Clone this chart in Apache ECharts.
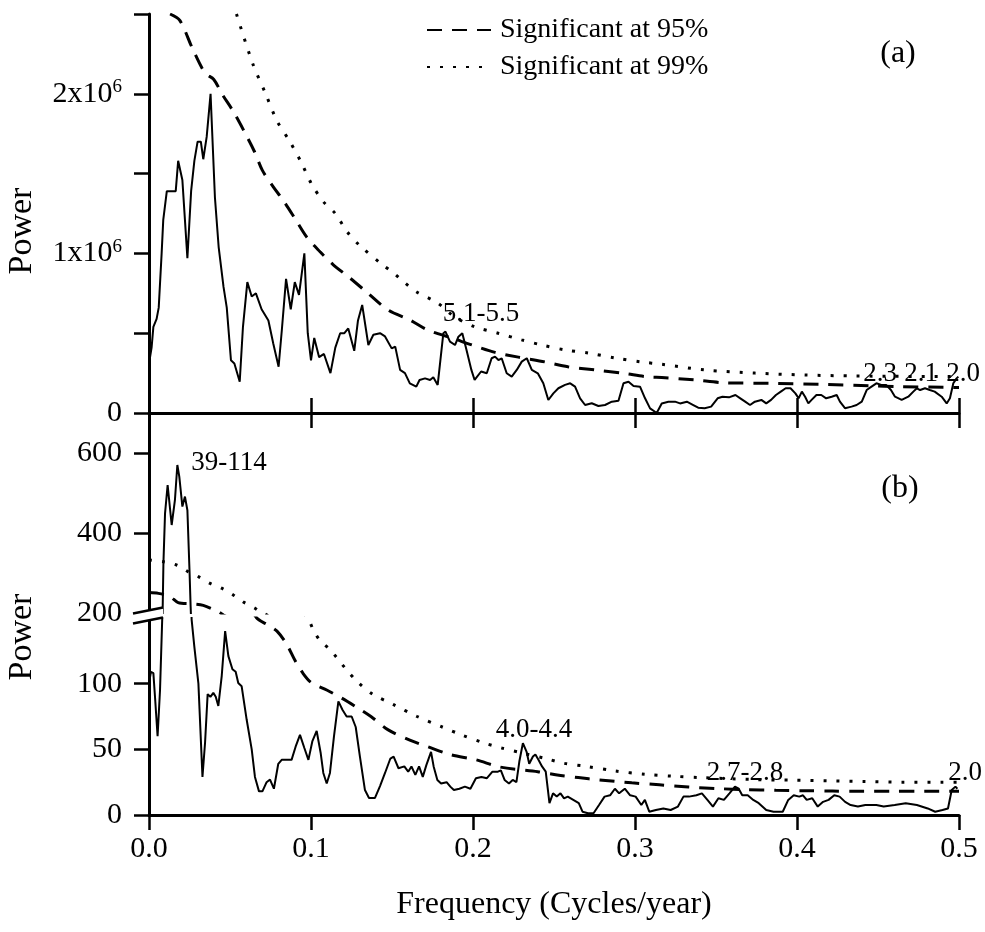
<!DOCTYPE html>
<html><head><meta charset="utf-8">
<script src="https://cdn.jsdelivr.net/npm/echarts@6/dist/echarts.min.js"></script>
<style>html,body{margin:0;padding:0;background:#fff}#c{width:985px;height:932px}</style>
</head><body><div id="c"></div>
<script>
// ---------- DATA ----------
// Panel (a): power in units of 10^6
const freqA = [0,0.0016,0.0027,0.0047,0.006,0.0078,0.0088,0.011,0.0165,0.018,0.019,0.0206,0.0237,0.026,0.028,0.030,0.032,0.0335,0.0356,0.038,0.0407,0.043,0.046,0.048,0.0506,0.0527,0.056,0.058,0.0607,0.0634,0.066,0.0695,0.0737,0.0767,0.080,0.082,0.0846,0.0875,0.090,0.0926,0.0959,0.098,0.100,0.102,0.105,0.108,0.112,0.115,0.118,0.1206,0.123,0.1267,0.129,0.1316,0.1354,0.1385,0.1426,0.1457,0.1498,0.152,0.155,0.158,0.161,0.165,0.167,0.1704,0.1735,0.1755,0.1782,0.1817,0.183,0.1858,0.1889,0.191,0.1934,0.196,0.199,0.201,0.205,0.2085,0.2115,0.2136,0.2157,0.2177,0.2208,0.2239,0.227,0.2301,0.2332,0.2363,0.24,0.2434,0.2465,0.2496,0.2527,0.2568,0.26,0.263,0.2661,0.2692,0.2733,0.2774,0.2815,0.2857,0.2898,0.2929,0.296,0.2991,0.3031,0.3062,0.3093,0.3134,0.3165,0.3206,0.3247,0.3278,0.332,0.336,0.339,0.343,0.347,0.351,0.354,0.358,0.362,0.365,0.368,0.371,0.374,0.378,0.381,0.384,0.387,0.39,0.393,0.396,0.399,0.401,0.403,0.405,0.407,0.409,0.412,0.415,0.418,0.4214,0.4245,0.4265,0.4296,0.4337,0.4368,0.44,0.443,0.446,0.449,0.452,0.455,0.458,0.4605,0.4646,0.4687,0.4718,0.474,0.476,0.479,0.482,0.485,0.4893,0.4924,0.4944,0.4965,0.4985,0.4996];
const powerA = [0.31,0.41,0.54,0.59,0.66,1.0,1.21,1.39,1.39,1.58,1.59,1.46,0.97,1.39,1.58,1.70,1.70,1.59,1.73,2.0,1.35,1.04,0.79,0.66,0.33,0.31,0.196,0.54,0.82,0.73,0.75,0.65,0.58,0.435,0.29,0.52,0.84,0.65,0.82,0.74,1.0,0.50,0.33,0.47,0.35,0.37,0.25,0.41,0.50,0.50,0.53,0.39,0.58,0.677,0.426,0.49,0.50,0.48,0.405,0.416,0.27,0.25,0.186,0.165,0.207,0.217,0.207,0.224,0.176,0.50,0.51,0.447,0.426,0.478,0.50,0.395,0.27,0.207,0.26,0.249,0.343,0.353,0.332,0.343,0.249,0.228,0.27,0.322,0.343,0.27,0.249,0.186,0.0815,0.123,0.155,0.176,0.186,0.165,0.092,0.05,0.061,0.044,0.05,0.071,0.077,0.186,0.196,0.169,0.165,0.092,0.029,0.0,0.06,0.071,0.071,0.06,0.071,0.05,0.033,0.03,0.04,0.092,0.102,0.098,0.113,0.092,0.071,0.05,0.071,0.082,0.06,0.082,0.113,0.134,0.155,0.155,0.123,0.092,0.134,0.102,0.06,0.082,0.113,0.113,0.092,0.102,0.113,0.071,0.03,0.04,0.05,0.071,0.144,0.165,0.186,0.176,0.176,0.144,0.102,0.082,0.102,0.134,0.155,0.144,0.155,0.144,0.134,0.102,0.06,0.092,0.186,0.217,0.228];
const freqA95 = [0.013,0.019,0.027,0.0346,0.040,0.045,0.052,0.059,0.065,0.070,0.0765,0.083,0.090,0.0975,0.1056,0.1136,0.124,0.135,0.1475,0.161,0.172,0.187,0.1994,0.2136,0.228,0.2444,0.2586,0.275,0.292,0.308,0.3165,0.337,0.354,0.384,0.415,0.446,0.4615,0.4924,0.5];
const powerA95 = [2.50,2.46,2.28,2.13,2.09,2.0,1.89,1.76,1.64,1.52,1.42,1.33,1.22,1.10,1.01,0.93,0.846,0.752,0.646,0.583,0.52,0.47,0.426,0.38,0.35,0.32,0.29,0.27,0.25,0.226,0.222,0.207,0.19,0.186,0.18,0.17,0.165,0.161,0.16];
const freqA99 = [0.054,0.064,0.072,0.079,0.087,0.094,0.1006,0.108,0.115,0.122,0.13,0.144,0.151,0.158,0.165,0.178,0.189,0.201,0.2155,0.23,0.2426,0.257,0.271,0.2877,0.304,0.3167,0.343,0.374,0.405,0.436,0.4975,0.5];
const powerA99 = [2.50,2.19,2.0,1.83,1.70,1.57,1.43,1.32,1.25,1.14,1.05,0.93,0.877,0.815,0.76,0.69,0.60,0.54,0.50,0.458,0.426,0.395,0.376,0.345,0.32,0.305,0.27,0.25,0.238,0.232,0.228,0.228];

// Panel (b)
const freqB = [0,0.0012,0.0027,0.0037,0.0053,0.0068,0.0082,0.0089,0.0099,0.0115,0.0124,0.014,0.016,0.0175,0.0187,0.0206,0.0222,0.0237,0.025,0.0257,0.0263,0.028,0.0305,0.033,0.0346,0.0362,0.0379,0.0397,0.0412,0.0428,0.0449,0.047,0.049,0.0515,0.0535,0.0551,0.0572,0.0603,0.0634,0.0654,0.0679,0.07,0.0726,0.0747,0.0771,0.0798,0.0819,0.088,0.0905,0.0932,0.0959,0.0984,0.1008,0.1035,0.106,0.1076,0.1097,0.1117,0.1142,0.1169,0.1195,0.122,0.1251,0.1276,0.1302,0.1333,0.1358,0.1395,0.1426,0.1457,0.149,0.151,0.154,0.1576,0.16,0.162,0.1644,0.1667,0.169,0.1712,0.1741,0.1757,0.178,0.1803,0.1837,0.186,0.1882,0.1916,0.195,0.1984,0.2018,0.2052,0.2086,0.212,0.2154,0.2172,0.2195,0.2222,0.2245,0.2268,0.2286,0.2308,0.2331,0.2347,0.237,0.2385,0.2404,0.2426,0.2449,0.2472,0.2494,0.2517,0.254,0.2562,0.2585,0.2619,0.2653,0.2676,0.271,0.2744,0.2778,0.2812,0.2846,0.2876,0.2902,0.2937,0.297,0.3004,0.3039,0.3061,0.3088,0.3129,0.3175,0.322,0.3265,0.3299,0.3333,0.3379,0.3413,0.3447,0.3481,0.3515,0.3549,0.3583,0.3617,0.364,0.3662,0.3696,0.373,0.3764,0.381,0.3855,0.3912,0.3946,0.398,0.4014,0.4037,0.406,0.4094,0.4128,0.4161,0.4195,0.423,0.4263,0.4297,0.4331,0.4376,0.4422,0.449,0.4535,0.4603,0.4671,0.474,0.4807,0.4853,0.4898,0.4932,0.4955,0.4978,0.499];
const powerB = [100.5,109,108,90,60,95,151,324,449,520,516,420,482,570,541,466,491,457,307,216,149,128,100,29,55,92,90,93,90,83,106,140,121,111,109,100.5,98,72.5,50,29,18,18,25,27,20,39,42,42,52,61,51,42,56,64,47,32,24,32,60,86.5,80,75,75,67,44.5,19,13,13,22,32,43,44.5,35.6,37,33,37,30.5,37,29,38,48,37,26.7,24,25,21.6,19,20,21.6,20,28,29,28,33,33,34,26.7,24,26.7,25,40.7,54.7,48,39,44.5,46,42,37,33,9,16.5,14,16.5,12.7,14,11.5,9,2.5,1.3,1.3,7.6,14,15,20,16.5,20,15,14,7.6,11.5,2.5,3.8,5,3.8,6.4,14,14,15,16.5,11.5,6.4,12.7,11.5,16.5,21.6,20,15,15,11.5,9,3.8,2.5,2.5,11.5,15,14,15,11.5,12.7,6.4,10,11.5,15,14,10,7.6,6.4,7.6,7.6,6.4,7.6,9,7.6,5,2.5,3.8,5,19,21.6,20];
const freqB95 = [0,0.0058,0.013,0.018,0.026,0.0335,0.0428,0.046,0.056,0.0665,0.073,0.079,0.085,0.09,0.095,0.1,0.11,0.119,0.127,0.137,0.1474,0.161,0.172,0.186,0.202,0.2167,0.24,0.252,0.265,0.278,0.298,0.315,0.333,0.353,0.368,0.387,0.404,0.422,0.44,0.461,0.479,0.5];
const powerB95 = [251,249,241,226,223,219,203,195,172,150,145,140,130,118,108,101,95,89,83,75,65,57,52,46,42,36.5,33,30.5,28.5,26.7,24.5,23,21.3,20,19.3,18.8,18.5,18.2,18,18,18,18];
const freqB99 = [0,0.009,0.017,0.0243,0.0305,0.0377,0.0449,0.052,0.058,0.0654,0.068,0.083,0.0984,0.1014,0.1055,0.1117,0.1158,0.121,0.129,0.138,0.151,0.1655,0.181,0.193,0.2064,0.2177,0.231,0.245,0.256,0.27,0.288,0.306,0.324,0.340,0.374,0.397,0.4195,0.442,0.465,0.49,0.5];
const powerB99 = [332.5,328,320,303,291,274,262,245,228,212,205,175,149,141,133,126,120,112,101,92,84,75,67,61,55,51,47,43,39.4,37,33.5,31,29.5,28.5,27,26.5,26,25.5,25,25,25];

const xTicks = [0, 0.1, 0.2, 0.3, 0.4, 0.5];
const yTicksA = [0, 0.5, 1, 1.5, 2, 2.5];
const yLabelsA = [0, 1, 2];
const yTicksBUpper = [200, 400, 600];
const yTicksBLower = [0, 50, 100];

const annotations = [
  {text:'5.1-5.5', x:481, y:314}, {text:'2.3', x:880, y:374}, {text:'2.1', x:921, y:374}, {text:'2.0', x:963, y:374},
  {text:'39-114', x:229, y:463}, {text:'4.0-4.4', x:534, y:730}, {text:'2.7-2.8', x:745, y:773}, {text:'2.0', x:965, y:773}
];

// ---------- CHART ----------
const FONT = '"Liberation Serif","Times New Roman",serif';
const zip = (xs, ys) => xs.map((x, i) => [x, ys[i]]);
const chart = echarts.init(document.getElementById('c'), null, {renderer: 'canvas'});

const L = 149, W = 810;
const axisLine = {show: true, lineStyle: {color: '#000', width: 3}};
const tickOut = {show: true, inside: false, length: 15, lineStyle: {color: '#000', width: 2.5}};
const tickIn = {show: true, inside: true, length: 15, lineStyle: {color: '#000', width: 2.5}};
const lblY = {color: '#000', fontFamily: FONT, fontSize: 30, margin: 27};

const solid = {type: 'line', symbol: 'none', lineStyle: {color: '#000', width: 2}, animation: false, z: 3};
const dash95 = {type: 'line', symbol: 'none', smooth: 0.3, name: 'Significant at 95%', lineStyle: {color: '#000', width: 3, type: [15, 10]}, itemStyle: {color: '#000'}, animation: false};
const dot99 = {type: 'line', symbol: 'none', smooth: 0.3, name: 'Significant at 99%', lineStyle: {color: '#000', width: 3, type: [3, 10]}, itemStyle: {color: '#000'}, animation: false};

const xBase = {type: 'value', min: 0, max: 0.5, interval: 0.1, splitLine: {show: false}, position: 'bottom'};

const option = {
  animation: false,
  backgroundColor: '#fff',
  legend: {
    data: ['Significant at 95%', 'Significant at 99%'],
    orient: 'vertical', left: 421, top: 11, padding: 5,
    itemWidth: 64, itemHeight: 28, itemGap: 9, selectedMode: false,
    itemStyle: {opacity: 0},
    textStyle: {fontFamily: FONT, fontSize: 28, color: '#000', padding: [0, 0, 0, 4]}
  },
  grid: [
    {left: L, top: 14, width: W, height: 399},
    {left: L, top: 413, width: W, height: 200},
    {left: L, top: 618, width: W, height: 197}
  ],
  xAxis: [
    Object.assign({}, xBase, {gridIndex: 0, axisLine: axisLine, axisTick: tickOut, axisLabel: {show: false}}),
    Object.assign({}, xBase, {gridIndex: 0, axisLine: {show: false}, axisTick: tickIn, axisLabel: {show: false}}),
    Object.assign({}, xBase, {gridIndex: 1, show: false}),
    Object.assign({}, xBase, {gridIndex: 2, axisLine: axisLine, axisTick: tickOut,
      axisLabel: {color: '#000', fontFamily: FONT, fontSize: 30, margin: 19, formatter: v => v.toFixed(1), customValues: xTicks},
      name: 'Frequency (Cycles/year)', nameLocation: 'middle', nameGap: 74,
      nameTextStyle: {color: '#000', fontFamily: FONT, fontSize: 32}})
  ],
  yAxis: [
    {type: 'value', gridIndex: 0, min: 0, max: 2.5, interval: 0.5, splitLine: {show: false},
     axisLine: axisLine, axisTick: Object.assign({}, tickOut, {customValues: yTicksA}),
     axisLabel: Object.assign({}, lblY, {
       customValues: yLabelsA,
       formatter: v => v === 0 ? '{n|0}' : '{n|' + v + 'x10}{s|6}',
       rich: {n: {fontFamily: FONT, fontSize: 30, color: '#000', lineHeight: 32},
              s: {fontFamily: FONT, fontSize: 19, color: '#000', lineHeight: 19, verticalAlign: 'top'}}
     })},
    {type: 'value', gridIndex: 1, min: 200, max: 700, splitLine: {show: false},
     axisLine: axisLine, axisTick: Object.assign({}, tickOut, {customValues: yTicksBUpper}),
     axisLabel: Object.assign({}, lblY, {customValues: yTicksBUpper})},
    {type: 'value', gridIndex: 2, min: 0, max: 150, splitLine: {show: false},
     axisLine: axisLine, axisTick: Object.assign({}, tickOut, {customValues: yTicksBLower}),
     axisLabel: Object.assign({}, lblY, {customValues: yTicksBLower})}
  ],
  series: [
    Object.assign({}, solid, {xAxisIndex: 0, yAxisIndex: 0, data: zip(freqA, powerA)}),
    Object.assign({}, dash95, {xAxisIndex: 0, yAxisIndex: 0, data: zip(freqA95, powerA95)}),
    Object.assign({}, dot99, {xAxisIndex: 0, yAxisIndex: 0, data: zip(freqA99, powerA99)}),
    Object.assign({}, solid, {xAxisIndex: 2, yAxisIndex: 1, data: zip(freqB, powerB)}),
    Object.assign({}, dash95, {xAxisIndex: 2, yAxisIndex: 1, data: zip(freqB95, powerB95)}),
    Object.assign({}, dot99, {xAxisIndex: 2, yAxisIndex: 1, data: zip(freqB99, powerB99)}),
    Object.assign({}, solid, {xAxisIndex: 3, yAxisIndex: 2, data: zip(freqB, powerB)}),
    Object.assign({}, dash95, {xAxisIndex: 3, yAxisIndex: 2, data: zip(freqB95, powerB95)}),
    Object.assign({}, dot99, {xAxisIndex: 3, yAxisIndex: 2, data: zip(freqB99, powerB99)})
  ]
};
chart.setOption(option);

// decorations: panel letters, axis titles, annotations, axis break
const y200 = chart.convertToPixel({yAxisIndex: 1}, 200);
const y150 = chart.convertToPixel({yAxisIndex: 2}, 150);
const mid = (y200 + y150) / 2;
const g = [];
g.push({type: 'text', style: {text: '(a)', x: 898, y: 54, font: '32px ' + FONT, fill: '#000', align: 'center', verticalAlign: 'middle'}});
g.push({type: 'text', style: {text: '(b)', x: 900, y: 489, font: '32px ' + FONT, fill: '#000', align: 'center', verticalAlign: 'middle'}});
g.push({type: 'text', x: 22, y: 231, rotation: Math.PI / 2, style: {text: 'Power', x: 0, y: 0, font: '34px ' + FONT, fill: '#000', align: 'center', verticalAlign: 'middle'}});
g.push({type: 'text', x: 22, y: 637, rotation: Math.PI / 2, style: {text: 'Power', x: 0, y: 0, font: '34px ' + FONT, fill: '#000', align: 'center', verticalAlign: 'middle'}});
annotations.forEach(a => g.push({type: 'text', z: 10, style: {text: a.text, x: a.x, y: a.y, font: '27px ' + FONT, fill: '#000', align: 'center', verticalAlign: 'middle'}}));
g.push({type: 'polygon', z: 20, shape: {points: [[L - 16, mid - 2], [L + 14, mid - 8], [L + 14, mid + 2], [L - 16, mid + 8]]}, style: {fill: '#fff'}});
g.push({type: 'line', z: 21, shape: {x1: L - 16, y1: mid - 2, x2: L + 14, y2: mid - 8}, style: {stroke: '#000', lineWidth: 2.5}});
g.push({type: 'line', z: 21, shape: {x1: L - 16, y1: mid + 8, x2: L + 14, y2: mid + 2}, style: {stroke: '#000', lineWidth: 2.5}});
chart.setOption({graphic: g});
</script>
</body></html>
